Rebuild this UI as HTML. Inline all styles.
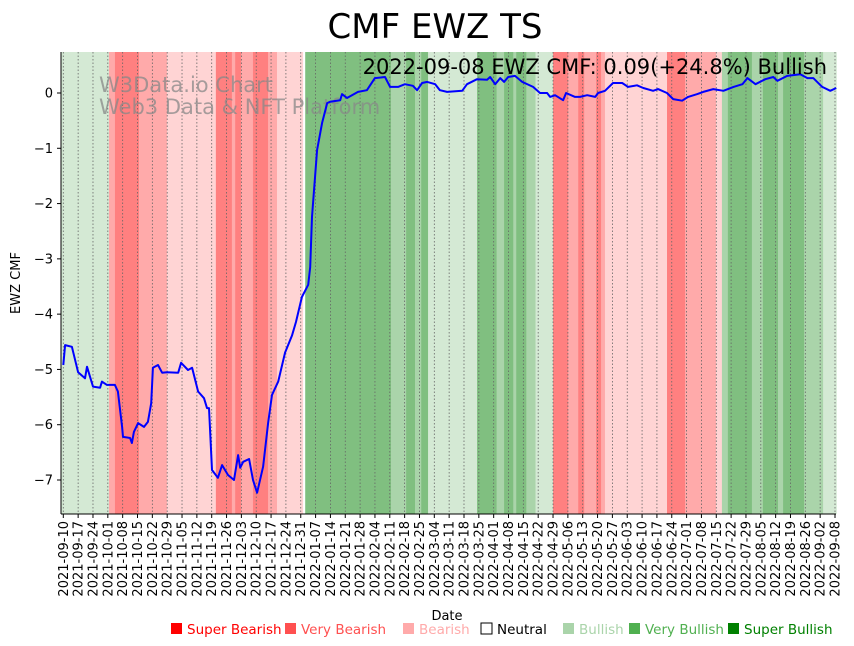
<!DOCTYPE html>
<html><head><meta charset="utf-8">
<style>
html,body{margin:0;padding:0;background:#fff;}
svg{display:block;font-family:"DejaVu Sans","Liberation Sans",sans-serif;}
</style></head>
<body>
<svg id="chart" width="854" height="646" viewBox="0 0 854 646" xmlns="http://www.w3.org/2000/svg">
<text x="435" y="38" font-size="34" text-anchor="middle" fill="#000">CMF EWZ TS</text>
<g id="bands"></g>
<g id="grid"></g>
<text x="99" y="92" font-size="21" fill="#888" fill-opacity="0.75">W3Data.io Chart</text>
<text x="99" y="114" font-size="21" fill="#888" fill-opacity="0.75">Web3 Data &amp; NFT Platform</text>
<path id="line" fill="none" stroke="#0000ff" stroke-width="2" stroke-linejoin="round"></path>
<text x="827" y="74" font-size="21" text-anchor="end" fill="#000">2022-09-08 EWZ CMF: 0.09(+24.8%) Bullish</text>
<g id="yaxis"></g>
<g id="xaxis"></g>
<text transform="translate(20,283) rotate(-90)" font-size="13" text-anchor="middle">EWZ CMF</text>
<text x="447" y="620" font-size="13" text-anchor="middle">Date</text>
<g id="legend"></g>
</svg>
<script>
const tickLabels=["2021-09-10","2021-09-17","2021-09-24","2021-10-01","2021-10-08","2021-10-15","2021-10-22","2021-10-29","2021-11-05","2021-11-12","2021-11-19","2021-11-26","2021-12-03","2021-12-10","2021-12-17","2021-12-24","2021-12-31","2022-01-07","2022-01-14","2022-01-21","2022-01-28","2022-02-04","2022-02-11","2022-02-18","2022-02-25","2022-03-04","2022-03-11","2022-03-18","2022-03-25","2022-04-01","2022-04-08","2022-04-15","2022-04-22","2022-04-29","2022-05-06","2022-05-13","2022-05-20","2022-05-27","2022-06-03","2022-06-10","2022-06-17","2022-06-24","2022-07-01","2022-07-08","2022-07-15","2022-07-22","2022-07-29","2022-08-05","2022-08-12","2022-08-19","2022-08-26","2022-09-02","2022-09-08"];
const yTicks=[0,-1,-2,-3,-4,-5,-6,-7];
const lineT=[0,0.6,2.9,5.0,7.3,8.0,10.0,12.4,13.0,14.7,17.4,18.4,19.8,20.1,22.5,23.1,23.8,25.2,27.2,28.5,29.6,30.2,31.9,33.3,34.9,38.7,39.7,42.0,43.4,45.4,47.4,48.4,49.1,50.1,52.1,53.5,55.5,57.5,58.9,59.6,60.6,62.6,63.9,65.3,67.3,69.0,70.3,72.4,74.7,77.1,78.4,80.4,82.5,83.2,83.8,85.5,87.2,88.9,89.9,93.3,93.9,95.6,99.3,102.3,105.0,108.4,110.1,112.8,115.1,117.8,119.2,120.9,122.6,125.3,126.9,129.3,134.4,136.0,139.4,142.8,143.8,145.5,147.2,148.5,149.9,152.2,154.6,158.3,160.6,163.0,164.0,165.7,168.4,169.4,172.4,174.1,176.5,179.2,180.2,182.5,185.2,188.3,190.3,193.3,195.4,198.7,200.4,203.4,205.5,208.5,210.5,213.6,215.6,219.0,222.4,225.8,228.8,230.5,233.2,236.5,239.2,240.6,243.9,248.3,250.7,252.7,255.7,258.4,260.4];
const lineV=[-4.92,-4.56,-4.59,-5.05,-5.16,-4.95,-5.31,-5.33,-5.22,-5.28,-5.28,-5.4,-6.04,-6.22,-6.24,-6.33,-6.13,-5.97,-6.04,-5.95,-5.61,-4.97,-4.92,-5.06,-5.05,-5.06,-4.88,-5.01,-4.97,-5.4,-5.52,-5.7,-5.7,-6.82,-6.96,-6.73,-6.91,-7.0,-6.55,-6.78,-6.67,-6.62,-7.0,-7.23,-6.76,-5.97,-5.46,-5.22,-4.7,-4.38,-4.14,-3.69,-3.47,-3.15,-2.24,-1.03,-0.54,-0.18,-0.16,-0.13,-0.02,-0.09,0.02,0.05,0.27,0.29,0.11,0.11,0.16,0.13,0.05,0.18,0.2,0.16,0.05,0.02,0.04,0.16,0.25,0.24,0.29,0.16,0.27,0.2,0.29,0.31,0.2,0.11,0,0,-0.07,-0.04,-0.13,0,-0.07,-0.07,-0.04,-0.07,0,0.04,0.18,0.18,0.11,0.14,0.09,0.04,0.07,0,-0.11,-0.14,-0.07,-0.02,0.02,0.07,0.04,0.11,0.16,0.27,0.16,0.25,0.29,0.22,0.31,0.34,0.27,0.27,0.11,0.04,0.09];
const bandStart=[-0.8,15.4,17.4,25.5,34.9,51.4,56.8,57.9,59.9,63.9,69.0,72.0,80.8,81.5,110.4,115.5,118.5,120.6,122.9,139.4,146.0,148.5,151.6,152.6,156.0,159.1,165.0,170.1,173.5,175.5,179.5,181.2,182.5,203.4,209.5,219.9,221.9,223.9,232.0,235.7,240.8,242.5,249.6,256.0];
const bandLevel=[1,-2,-3,-2,-1,-3,-2,-3,-2,-3,-2,-1,0,3,2,3,2,3,1,3,2,3,2,3,2,1,-3,-2,-3,-2,-3,-2,-1,-3,-2,-1,2,3,2,3,2,3,2,1];
const bandEnd=260.5;
const legendLabels=["Super Bearish","Very Bearish","Bearish","Neutral","Bullish","Very Bullish","Super Bullish"];

const NS="http://www.w3.org/2000/svg";
const L=61,R=836,T=52,B=514;
const tMin=-0.8,tMax=260.5;
const x=t=>63.3+(t)*(771.7/260);
const y=v=>93+(-v)*(387/7);
function mk(tag,attrs,parent){const e=document.createElementNS(NS,tag);for(const k in attrs)e.setAttribute(k,attrs[k]);parent.appendChild(e);return e;}
const colors={"-3":"#ff8080","-2":"#ffaaaa","-1":"#ffd4d4","0":"#ffffff","1":"#d4e9d4","2":"#aad4aa","3":"#80bf80"};
const bands=document.getElementById('bands');
for(let i=0;i<bandStart.length;i++){
  const s=bandStart[i],e=i+1<bandStart.length?bandStart[i+1]:bandEnd;
  const r=mk('rect',{x:x(s),y:T,width:x(e)-x(s)+0.3,height:B-T,fill:colors[bandLevel[i]]},bands);
  
  
}
const grid=document.getElementById('grid'),xa=document.getElementById('xaxis');
const step=771.7/52;
tickLabels.forEach((lab,i)=>{
  const px=63.3+i*step;
  const g=mk('line',{x1:px,x2:px,y1:T,y2:B,stroke:'#666','stroke-width':0.8,'stroke-dasharray':'1.5,2'},grid);
  
  
  mk('line',{x1:px,x2:px,y1:B,y2:B+4,stroke:'#000','stroke-width':1},xa);
  const t=mk('text',{transform:`translate(${px+4.5},${B+7}) rotate(-90)`,'font-size':13,'text-anchor':'end'},xa);
  t.textContent=lab;
  
  
});
mk('line',{x1:L,x2:R,y1:B,y2:B,stroke:'#000','stroke-width':1},xa);
const ya=document.getElementById('yaxis');
mk('line',{x1:L,x2:L,y1:T,y2:B,stroke:'#000','stroke-width':1},ya);
yTicks.forEach(v=>{
  const py=y(v);
  mk('line',{x1:L-4,x2:L,y1:py,y2:py,stroke:'#000'},ya);
  const t=mk('text',{x:L-8,y:py+4.5,'font-size':13,'text-anchor':'end'},ya);
  t.textContent=v<0?'\u2212'+Math.abs(v):String(v);
  
  
});
let d='';
lineT.forEach((t,i)=>{d+=(i?'L':'M')+x(Math.max(t,tMin)).toFixed(1)+','+y(lineV[i]).toFixed(1);});
document.getElementById('line').setAttribute('d',d);
const lg=document.getElementById('legend');
const lgX=[171,285,403,481,563,629,728];
const lgC=["#ff0000","#ff5050","#ffaaaa","#000","#aad4aa","#50b050","#008000"];
legendLabels.forEach((lab,i)=>{
  const sq=mk('rect',{x:lgX[i],y:623,width:11,height:11,fill:i===3?'none':lgC[i],stroke:i===3?'#000':'none'},lg);
  
  
  const t=mk('text',{x:lgX[i]+16,y:634,'font-size':13.5,fill:lgC[i]},lg);
  t.textContent=lab;
  
  
});
</script>
</body></html>
